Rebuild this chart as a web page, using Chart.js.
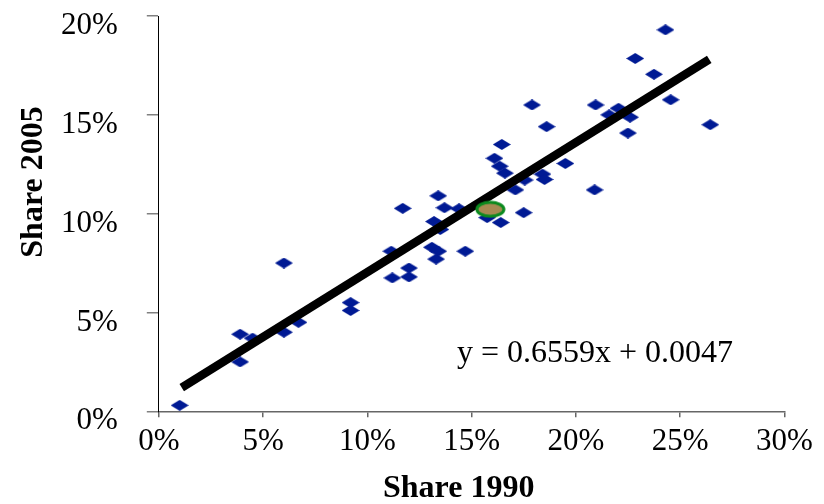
<!DOCTYPE html>
<html><head><meta charset="utf-8">
<script src="https://cdn.jsdelivr.net/npm/chart.js@4/dist/chart.umd.min.js"></script>
<style>html,body{margin:0;padding:0;background:#fff;}canvas{display:block;}</style>
</head><body>
<canvas id="c" width="824" height="504"></canvas>
<script>
// Values in percent
const share1990 = [1.0, 3.9, 3.9, 4.5, 6.0, 6.0, 6.7, 9.2, 9.2, 11.2, 12.0, 12.0, 11.15, 11.7, 13.4, 13.7, 14.4, 13.2, 13.5, 13.1, 13.4, 13.3, 14.7, 15.75, 16.4, 17.5, 17.1, 16.6, 17.55, 16.1, 16.35, 16.45, 18.4, 18.5, 19.5, 18.6, 17.9, 20.9, 20.95, 21.6, 22.05, 22.6, 22.5, 22.85, 23.75, 24.3, 24.55, 26.45];
const share2005 = [0.3, 3.9, 2.5, 3.7, 7.5, 4.0, 4.5, 5.5, 5.1, 6.75, 6.8, 7.25, 8.1, 10.27, 10.9, 10.3, 10.25, 9.6, 9.2, 8.3, 8.1, 7.7, 8.1, 9.8, 9.55, 10.05, 11.2, 12.05, 11.7, 12.8, 12.4, 13.5, 12.0, 11.73, 12.54, 14.4, 15.5, 11.2, 15.5, 15.0, 15.33, 14.88, 14.08, 17.85, 17.05, 19.3, 15.76, 14.5];
const highlight1990 = [15.9];
const highlight2005 = [10.22];
const trend1990 = [1.1, 26.4];
const trend2005 = [1.2, 17.8];
const xTicks = [0, 5, 10, 15, 20, 25, 30];
const yTicks = [0, 5, 10, 15, 20];
const xTitle = 'Share 1990';
const yTitle = 'Share 2005';
const equationText = 'y = 0.6559x + 0.0047';
const equationAt = [14.3, 2.48];

function makeDiamond(w, h, color) {
  const c = document.createElement('canvas'); c.width = w; c.height = h;
  const g = c.getContext('2d'); g.fillStyle = color;
  g.beginPath(); g.moveTo(w/2, 0); g.lineTo(w, h/2); g.lineTo(w/2, h); g.lineTo(0, h/2); g.closePath(); g.fill();
  return c;
}
function makeEllipse(w, h, fill, stroke, lw) {
  const c = document.createElement('canvas'); c.width = w; c.height = h;
  const g = c.getContext('2d');
  g.beginPath(); g.ellipse(w/2, h/2, w/2 - lw/2 - 0.5, h/2 - lw/2 - 0.5, 0, 0, Math.PI*2);
  g.fillStyle = fill; g.fill(); g.lineWidth = lw; g.strokeStyle = stroke; g.stroke();
  return c;
}
const diamond = makeDiamond(18, 11, '#001a94');
const ellipse = makeEllipse(31, 18, '#a68a52', '#0b8a1e', 3);

const pts = (xs, ys) => xs.map((x, i) => ({x, y: ys[i]}));

const textPlugin = {
  id: 'texts',
  afterDraw(chart) {
    const ctx = chart.ctx;
    ctx.save();
    ctx.fillStyle = '#000';
    ctx.font = 'bold 32px "Liberation Serif"';
    ctx.textAlign = 'center'; ctx.textBaseline = 'alphabetic';
    ctx.fillText(xTitle, 458.7, 497);
    ctx.save();
    ctx.translate(41.7, 182); ctx.rotate(-Math.PI/2);
    ctx.fillText(yTitle, 0, 0);
    ctx.restore();
    ctx.font = '32px "Liberation Serif"';
    ctx.textAlign = 'left';
    ctx.fillText(equationText, chart.scales.x.getPixelForValue(equationAt[0]), chart.scales.y.getPixelForValue(equationAt[1]));
    ctx.restore();
  }
};

new Chart(document.getElementById('c'), {
  type: 'scatter',
  data: {
    datasets: [
      { label: 'Countries', data: pts(share1990, share2005), pointStyle: diamond, pointRadius: 9, order: 3 },
      { label: 'Trend', data: pts(trend1990, trend2005), showLine: true, borderColor: '#000', borderWidth: 8.5, borderCapStyle: 'butt', pointRadius: 0, order: 2 },
      { label: 'Highlight', data: pts(highlight1990, highlight2005), pointStyle: ellipse, pointRadius: 15, order: 1 }
    ]
  },
  options: {
    responsive: false, animation: false, devicePixelRatio: 1,
    layout: { padding: { top: 14, right: 39.7, left: 0, bottom: 0 } },
    plugins: { legend: { display: false }, tooltip: { enabled: false } },
    scales: {
      x: {
        type: 'linear', position: 'bottom', min: 0, max: 30,
        afterBuildTicks: s => { s.ticks = xTicks.map(v => ({ value: v })); },
        afterFit: s => { s.height = 92.7; s.paddingLeft = 0; s.paddingRight = 0; },
        ticks: { callback: v => v + '%', font: { family: 'Liberation Serif', size: 31 }, color: '#000', padding: 6, maxRotation: 0, autoSkip: false },
        grid: { drawOnChartArea: false, drawTicks: true, tickLength: 6, color: '#666', lineWidth: 1.5 },
        border: { color: '#666', width: 1.5 }
      },
      y: {
        type: 'linear', position: 'left', min: 0, max: 20,
        afterBuildTicks: s => { s.ticks = yTicks.map(v => ({ value: v })); },
        afterFit: s => { s.width = 158.8; s.paddingTop = 0; s.paddingBottom = 0; },
        ticks: { callback: v => v + '%', font: { family: 'Liberation Serif', size: 31 }, color: '#000', padding: 29, labelOffset: 10, autoSkip: false },
        grid: { drawOnChartArea: false, drawTicks: true, tickLength: 12, color: '#808080', lineWidth: 1.5 },
        border: { color: '#000', width: 1 }
      }
    }
  },
  plugins: [textPlugin]
});
</script>
</body></html>
